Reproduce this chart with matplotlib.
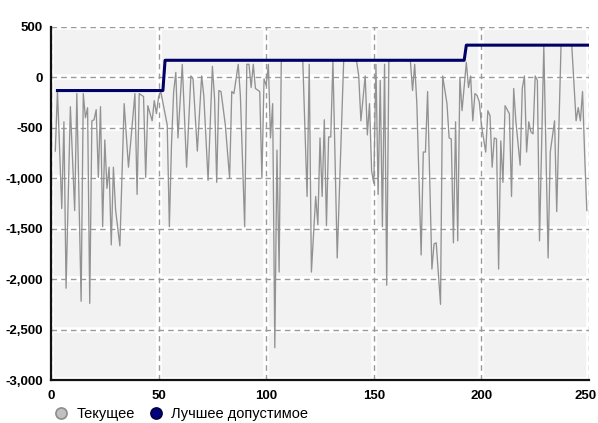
import matplotlib
matplotlib.use("Agg")
import matplotlib.pyplot as plt
import matplotlib.transforms as mtransforms
from matplotlib.lines import Line2D
from matplotlib.ticker import FuncFormatter

plt.rcParams['font.family'] = ['Liberation Sans', 'DejaVu Sans']

# Current value ("Текущее")
cur_x = [2, 3, 5, 6, 7, 9, 11, 12, 14, 15, 16, 17, 18, 19, 20, 21, 22, 23, 24, 25,
         26, 27, 28, 29, 30, 32, 34, 36, 39, 40, 41, 43, 44, 45, 47, 48, 49, 50, 51,
         54, 55, 56, 57, 58, 59, 61, 63, 65, 66, 68, 70, 71, 73, 75, 76, 77, 78, 79,
         81, 83, 84, 85, 87, 88, 90, 91, 92, 93, 94, 95, 97, 98, 99, 100, 101, 102,
         103, 104, 105, 106, 107, 112, 117, 119, 120, 121, 123, 124, 125, 126, 127,
         128, 129, 130, 131, 133, 136, 139, 142, 143, 144, 146, 147, 148, 149, 150,
         151, 152, 153, 154, 155, 156, 157, 162, 167, 168, 169, 170, 172, 173, 174,
         175, 177, 178, 179, 181, 182, 184, 185, 186, 187, 188, 189, 190, 191, 193,
         194, 195, 196, 197, 198, 199, 200, 202, 203, 204, 205, 206, 207, 208, 209,
         210, 211, 213, 214, 215, 216, 218, 219, 220, 221, 222, 223, 224, 225, 226,
         227, 229, 231, 232, 234, 235, 237, 240, 242, 244, 245, 246, 247, 248, 249]
cur_y = [-730, -130, -1300, -440, -2090, -290, -1320, -160, -2220, -160, -400, -300,
         -2240, -430, -420, -320, -990, -290, -1480, -620, -1100, -890, -1660, -890,
         -1310, -1670, -260, -890, -160, -1160, -160, -190, -990, -280, -430, -230,
         -360, -190, -140,
         -470, -1480, -660, -140, 50, -600, 130, -890, 15, -15, -730, 15, -180, -1020,
         110, -210, -1040, -130, -140, -470, -1000, -140, -160, 130, -180, -1480, 130,
         130, -100, 130, -110, -140, -1000, -15, -80, 130, -600, -260, -2680, -720,
         -1930, 165, 170, 165, -1180, 130, -1930, -1180, -1460, -600, -1180, -420,
         -1470, -590, -590, 160, -1790, 165, 170, 160, 15, -430, 15, -570, -260, -930,
         -1050, 130, -1160, -30, -1480, 130, -2060, 165, 170, 165, -130, 130, -260,
         -1760, -740, -740, -140, -1900, -1650, -1640, -2250, 15, -260, -600, -610,
         -1640, -440, -1620, 0, -330, 150, -100, 15, -430, -160, -180, -240, -470,
         -740, -330, -380, -890, -600, -610, -1900, -630, -1040, -280, -360, -1180,
         -110, -430, -870, -110, 15, -740, -440, -540, -560, 15, -30, -1620, 315,
         -1790, -740, -430, -1330, 315, 320, 315, -430, -300, -430, -140, -780, -1320]

# Best feasible ("Лучшее допустимое")
best_x = [3, 52, 53, 192, 193, 250]
best_y = [-130, -130, 170, 170, 320, 320]

xticks = [0, 50, 100, 150, 200, 250]
yticks = [500, 0, -500, -1000, -1500, -2000, -2500, -3000]

fig = plt.figure(figsize=(5.98, 4.23), dpi=100)
ax = fig.add_axes([51/598, 1-380/423, (589-51)/598, (380-27)/423])
ax.set_facecolor('#f2f2f2')

ax.set_xlim(0, 250)
ax.set_ylim(-3000, 500)
ax.set_xticks(xticks)
ax.set_yticks(yticks)
ax.yaxis.set_major_formatter(FuncFormatter(lambda v, p: f"{int(v):,}"))

# grid: white band + dashed gray line
for v in xticks:
    ax.axvline(v, color='white', lw=4, zorder=0.5)
    ax.axvline(v, color='#9a9a9a', lw=1, ls=(0, (4, 3)), zorder=0.6)
for v in yticks:
    ax.axhline(v, color='white', lw=4, zorder=0.5)
    ax.axhline(v, color='#9a9a9a', lw=1, ls=(0, (4, 3)), zorder=0.6)

ax.plot(cur_x, cur_y, color='#929292', lw=0.95, zorder=2)
ax.plot(best_x, best_y, color='#000066', lw=2.2, zorder=3)

for s in ['top', 'right']:
    ax.spines[s].set_visible(False)
for s in ['left', 'bottom']:
    ax.spines[s].set_color('#111111')
    ax.spines[s].set_linewidth(1.6)
    ax.spines[s].set_linestyle((0, (3, 1)))
    ax.spines[s].set_zorder(4)

ax.tick_params(axis='both', length=0, labelsize=9.5, colors='black')
ax.tick_params(axis='y', pad=6)
ax.tick_params(axis='x', pad=7)
for lab in ax.get_xticklabels() + ax.get_yticklabels():
    lab.set_fontweight('bold')
fig.canvas.draw()
last = ax.get_xticklabels()[-1]
last.set_transform(last.get_transform() +
                   mtransforms.ScaledTranslation(-3/100, 0, fig.dpi_scale_trans))

handles = [
    Line2D([], [], ls='none', marker='o', markersize=8, markerfacecolor='#c0c0c0',
           markeredgecolor='#8c8c8c', markeredgewidth=1.2, label='Текущее'),
    Line2D([], [], ls='none', marker='o', markersize=8, markerfacecolor='#000080',
           markeredgecolor='#000040', markeredgewidth=1.2, label='Лучшее допустимое'),
]
fig.legend(handles=handles, loc='center left', bbox_to_anchor=(54/598, 1-414/423),
           ncol=2, frameon=False, fontsize=10.5, handletextpad=0.55, columnspacing=0.95,
           borderaxespad=0, borderpad=0, handlelength=1.0)

fig.savefig('out.png', dpi=100)
